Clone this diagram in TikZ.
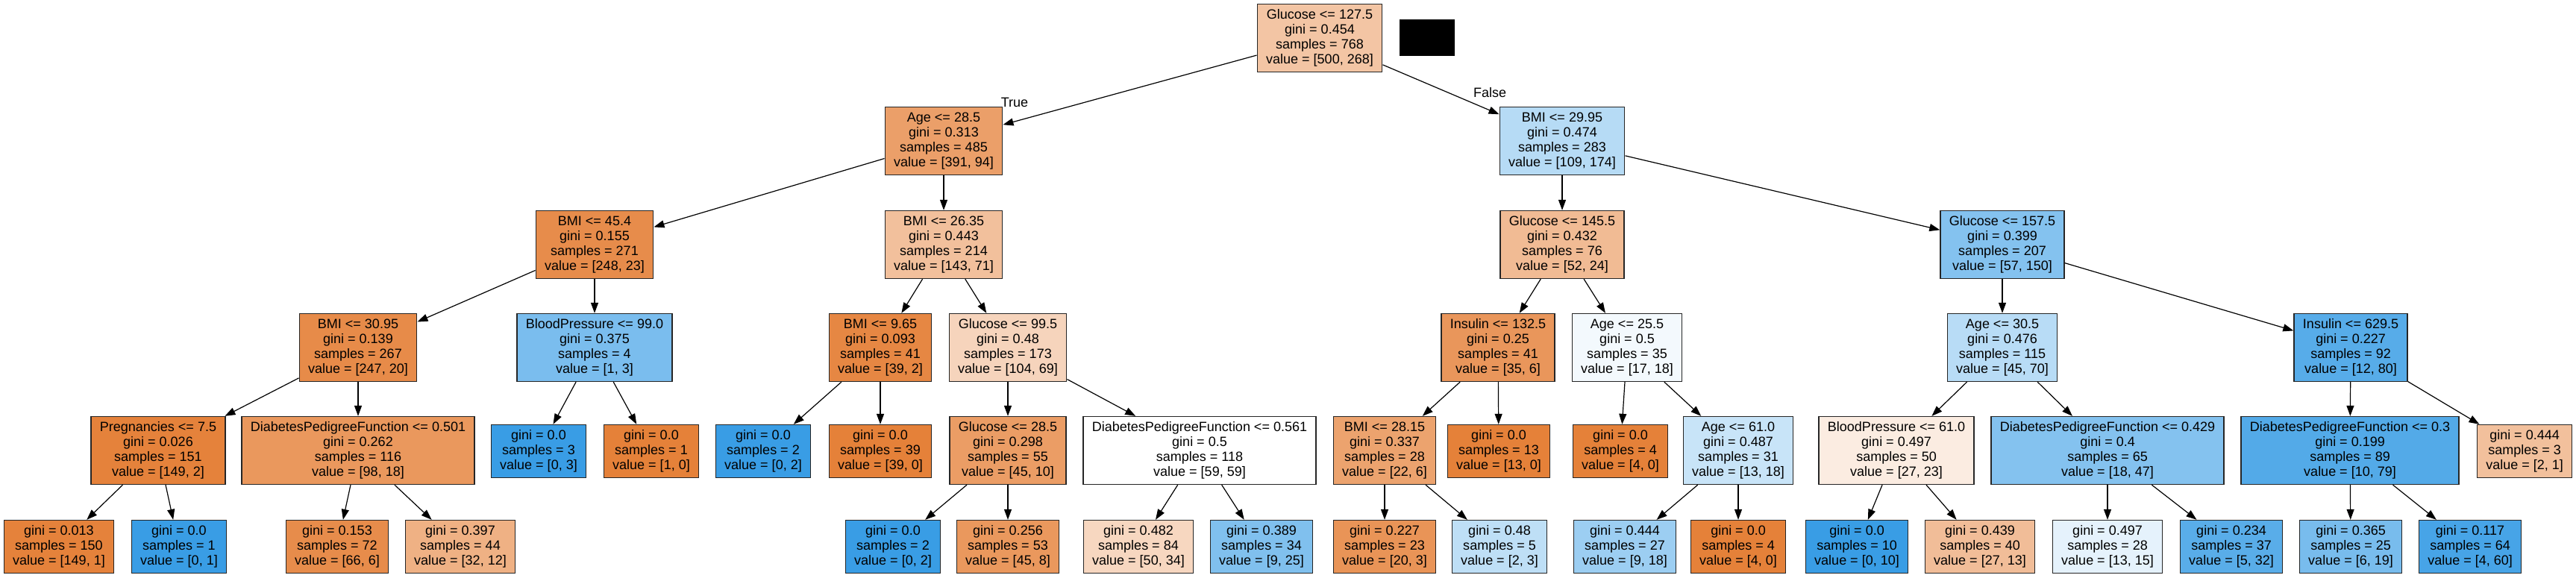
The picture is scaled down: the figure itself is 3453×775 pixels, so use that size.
\documentclass[tikz,border=0pt]{standalone}
\usepackage{fontspec}
\setmainfont{Liberation Sans}
\usetikzlibrary{arrows.meta}
\definecolor{classzero}{RGB}{229,129,57}
\definecolor{classone}{RGB}{57,157,229}
\begin{document}
\begin{tikzpicture}[x=1pt, y=-1pt, font=\fontsize{18}{20}\selectfont]

      \tikzset{split/.style={draw=black!85, line width=1.3pt, rectangle, align=center, inner xsep=12pt, inner ysep=0pt, minimum height=91pt},
               leaf/.style={split, minimum height=71pt},
               arr/.style={draw, line width=1.2pt, -{Triangle[length=14pt, width=10pt]}}}
      \useasboundingbox (0,0) rectangle (3453,775);
%% Vertices
      	\node[split, fill=classzero!46] (v1) at (1769,51) {Glucose <= 127.5\\gini = 0.454\\samples = 768\\value = [500, 268]};
      	\node[draw=none, fill=black, minimum width=74pt, minimum height=49pt, inner sep=0pt] (mask) at (1913,50.5) {};
      	\node[split, fill=classzero!76] (v2) at (1265,189) {Age <= 28.5\\gini = 0.313\\samples = 485\\value = [391, 94]};
      	\node[split, fill=classone!37] (v3) at (2094,189) {BMI <= 29.95\\gini = 0.474\\samples = 283\\value = [109, 174]};
      	\node[split, fill=classzero!91] (v4) at (797,328) {BMI <= 45.4\\gini = 0.155\\samples = 271\\value = [248, 23]};
      	\node[split, fill=classzero!50] (v5) at (1265,328) {BMI <= 26.35\\gini = 0.443\\samples = 214\\value = [143, 71]};
      	\node[split, fill=classzero!54] (v6) at (2094,328) {Glucose <= 145.5\\gini = 0.432\\samples = 76\\value = [52, 24]};
      	\node[split, fill=classone!62] (v7) at (2684,328) {Glucose <= 157.5\\gini = 0.399\\samples = 207\\value = [57, 150]};
      	\node[split, fill=classzero!92] (v8) at (480,466) {BMI <= 30.95\\gini = 0.139\\samples = 267\\value = [247, 20]};
      	\node[split, fill=classone!67] (v9) at (797,466) {BloodPressure <= 99.0\\gini = 0.375\\samples = 4\\value = [1, 3]};
      	\node[split, fill=classzero!95] (v10) at (1180,466) {BMI <= 9.65\\gini = 0.093\\samples = 41\\value = [39, 2]};
      	\node[split, fill=classzero!34] (v11) at (1351,466) {Glucose <= 99.5\\gini = 0.48\\samples = 173\\value = [104, 69]};
      	\node[split, fill=classzero!83] (v12) at (2008,466) {Insulin <= 132.5\\gini = 0.25\\samples = 41\\value = [35, 6]};
      	\node[split, fill=classone!6] (v13) at (2181,466) {Age <= 25.5\\gini = 0.5\\samples = 35\\value = [17, 18]};
      	\node[split, fill=classone!36] (v14) at (2684,466) {Age <= 30.5\\gini = 0.476\\samples = 115\\value = [45, 70]};
      	\node[split, fill=classone!85] (v15) at (3151,466) {Insulin <= 629.5\\gini = 0.227\\samples = 92\\value = [12, 80]};
      	\node[split, fill=classzero!99] (v16) at (212,604) {Pregnancies <= 7.5\\gini = 0.026\\samples = 151\\value = [149, 2]};
      	\node[split, fill=classzero!82] (v17) at (480,604) {DiabetesPedigreeFunction <= 0.501\\gini = 0.262\\samples = 116\\value = [98, 18]};
      	\node[leaf, fill=classone] (v18) at (722,605) {gini = 0.0\\samples = 3\\value = [0, 3]};
      	\node[leaf, fill=classzero] (v19) at (873,605) {gini = 0.0\\samples = 1\\value = [1, 0]};
      	\node[leaf, fill=classone] (v20) at (1023,605) {gini = 0.0\\samples = 2\\value = [0, 2]};
      	\node[leaf, fill=classzero] (v21) at (1180,605) {gini = 0.0\\samples = 39\\value = [39, 0]};
      	\node[split, fill=classzero!78] (v22) at (1351,604) {Glucose <= 28.5\\gini = 0.298\\samples = 55\\value = [45, 10]};
      	\node[split, fill=white] (v23) at (1608,604) {DiabetesPedigreeFunction <= 0.561\\gini = 0.5\\samples = 118\\value = [59, 59]};
      	\node[split, fill=classzero!73] (v24) at (1856,604) {BMI <= 28.15\\gini = 0.337\\samples = 28\\value = [22, 6]};
      	\node[leaf, fill=classzero] (v25) at (2009,605) {gini = 0.0\\samples = 13\\value = [13, 0]};
      	\node[leaf, fill=classzero] (v26) at (2172,605) {gini = 0.0\\samples = 4\\value = [4, 0]};
      	\node[split, fill=classone!28] (v27) at (2330,604) {Age <= 61.0\\gini = 0.487\\samples = 31\\value = [13, 18]};
      	\node[split, fill=classzero!15] (v28) at (2542,604) {BloodPressure <= 61.0\\gini = 0.497\\samples = 50\\value = [27, 23]};
      	\node[split, fill=classone!62] (v29) at (2825,604) {DiabetesPedigreeFunction <= 0.429\\gini = 0.4\\samples = 65\\value = [18, 47]};
      	\node[split, fill=classone!87] (v30) at (3150,604) {DiabetesPedigreeFunction <= 0.3\\gini = 0.199\\samples = 89\\value = [10, 79]};
      	\node[leaf, fill=classzero!50] (v31) at (3384,605) {gini = 0.444\\samples = 3\\value = [2, 1]};
      	\node[leaf, fill=classzero!99] (v32) at (79,733) {gini = 0.013\\samples = 150\\value = [149, 1]};
      	\node[leaf, fill=classone] (v33) at (240,733) {gini = 0.0\\samples = 1\\value = [0, 1]};
      	\node[leaf, fill=classzero!91] (v34) at (452,733) {gini = 0.153\\samples = 72\\value = [66, 6]};
      	\node[leaf, fill=classzero!62] (v35) at (617,733) {gini = 0.397\\samples = 44\\value = [32, 12]};
      	\node[leaf, fill=classone] (v36) at (1197,733) {gini = 0.0\\samples = 2\\value = [0, 2]};
      	\node[leaf, fill=classzero!82] (v37) at (1351,733) {gini = 0.256\\samples = 53\\value = [45, 8]};
      	\node[leaf, fill=classzero!32] (v38) at (1526,733) {gini = 0.482\\samples = 84\\value = [50, 34]};
      	\node[leaf, fill=classone!64] (v39) at (1691,733) {gini = 0.389\\samples = 34\\value = [9, 25]};
      	\node[leaf, fill=classzero!85] (v40) at (1856,733) {gini = 0.227\\samples = 23\\value = [20, 3]};
      	\node[leaf, fill=classone!33] (v41) at (2010,733) {gini = 0.48\\samples = 5\\value = [2, 3]};
      	\node[leaf, fill=classone!50] (v42) at (2178,733) {gini = 0.444\\samples = 27\\value = [9, 18]};
      	\node[leaf, fill=classzero] (v43) at (2330,733) {gini = 0.0\\samples = 4\\value = [4, 0]};
      	\node[leaf, fill=classone] (v44) at (2489,733) {gini = 0.0\\samples = 10\\value = [0, 10]};
      	\node[leaf, fill=classzero!52] (v45) at (2654,733) {gini = 0.439\\samples = 40\\value = [27, 13]};
      	\node[leaf, fill=classone!13] (v46) at (2825,733) {gini = 0.497\\samples = 28\\value = [13, 15]};
      	\node[leaf, fill=classone!84] (v47) at (2991,733) {gini = 0.234\\samples = 37\\value = [5, 32]};
      	\node[leaf, fill=classone!68] (v48) at (3151,733) {gini = 0.365\\samples = 25\\value = [6, 19]};
      	\node[leaf, fill=classone!93] (v49) at (3311,733) {gini = 0.117\\samples = 64\\value = [4, 60]};
%Labels
      	\node (ltrue) at (1360,137) {True};
      	\node (lfalse) at (1997,124) {False};
%Edges
		\path (v1) edge[arr] (v2);
		\path (v1) edge[arr] (v3);
		\path (v2) edge[arr] (v4);
		\path (v2) edge[arr] (v5);
		\path (v3) edge[arr] (v6);
		\path (v3) edge[arr] (v7);
		\path (v4) edge[arr] (v8);
		\path (v4) edge[arr] (v9);
		\path (v5) edge[arr] (v10);
		\path (v5) edge[arr] (v11);
		\path (v6) edge[arr] (v12);
		\path (v6) edge[arr] (v13);
		\path (v7) edge[arr] (v14);
		\path (v7) edge[arr] (v15);
		\path (v8) edge[arr] (v16);
		\path (v8) edge[arr] (v17);
		\path (v9) edge[arr] (v18);
		\path (v9) edge[arr] (v19);
		\path (v10) edge[arr] (v20);
		\path (v10) edge[arr] (v21);
		\path (v11) edge[arr] (v22);
		\path (v11) edge[arr] (v23);
		\path (v12) edge[arr] (v24);
		\path (v12) edge[arr] (v25);
		\path (v13) edge[arr] (v26);
		\path (v13) edge[arr] (v27);
		\path (v14) edge[arr] (v28);
		\path (v14) edge[arr] (v29);
		\path (v15) edge[arr] (v30);
		\path (v15) edge[arr] (v31);
		\path (v16) edge[arr] (v32);
		\path (v16) edge[arr] (v33);
		\path (v17) edge[arr] (v34);
		\path (v17) edge[arr] (v35);
		\path (v22) edge[arr] (v36);
		\path (v22) edge[arr] (v37);
		\path (v23) edge[arr] (v38);
		\path (v23) edge[arr] (v39);
		\path (v24) edge[arr] (v40);
		\path (v24) edge[arr] (v41);
		\path (v27) edge[arr] (v42);
		\path (v27) edge[arr] (v43);
		\path (v28) edge[arr] (v44);
		\path (v28) edge[arr] (v45);
		\path (v29) edge[arr] (v46);
		\path (v29) edge[arr] (v47);
		\path (v30) edge[arr] (v48);
		\path (v30) edge[arr] (v49);

	\end{tikzpicture}
\end{document}
